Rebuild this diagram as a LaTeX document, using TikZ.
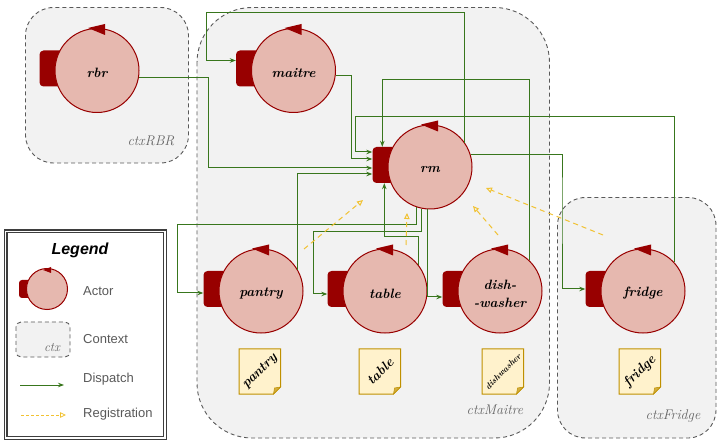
\documentclass[tikz,border=0pt]{standalone}
\usepackage{fontspec}
\usepackage{xcolor}
\usepackage{tikz}
\usetikzlibrary{arrows.meta}
\newfontfamily\legendfont{Liberation Sans}
\definecolor{actorred}{HTML}{980000}
\definecolor{actorfill}{HTML}{E6B8AF}
\definecolor{ctxfill}{HTML}{F2F2F2}
\definecolor{ctxline}{HTML}{595959}
\definecolor{ctxtext}{HTML}{666666}
\definecolor{greenline}{HTML}{38761D}
\definecolor{yellowline}{HTML}{F1C232}
\definecolor{notefill}{HTML}{FFF2CC}
\definecolor{noteline}{HTML}{BF9000}
\tikzset{
  actornode/.style={circle,draw=actorred,fill=actorfill,line width=1pt,minimum size=84pt,inner sep=0pt},
  actortext/.style={align=center,inner sep=0pt,font=\fontsize{13.5}{18}\selectfont\itshape\bfseries},
  portbox/.style={fill=actorred,rounded corners=4pt,minimum width=25pt,minimum height=36pt,inner sep=0pt},
  ctxbox/.style={draw=ctxline,fill=ctxfill,line width=0.9pt,dash pattern=on 4pt off 3pt},
  ctxlabel/.style={text=ctxtext,font=\fontsize{14}{14}\selectfont\itshape},
  dispatch/.style={draw=greenline,line width=1pt,-{Stealth[length=6pt,width=4.5pt]}},
  registration/.style={draw=yellowline,line width=1pt,dash pattern=on 5pt off 4pt,-{Triangle[open,length=6pt,width=5.5pt]}},
  notecard/.style={draw=noteline,fill=notefill,line width=1pt},
  notefold/.style={draw=noteline,fill=noteline!70!notefill,line width=0.5pt},
  notetext/.style={rotate=45,inner sep=0pt,font=\fontsize{13.5}{13.5}\selectfont\itshape\bfseries},
  legendtext/.style={anchor=west,inner sep=0pt,text=ctxline,font=\legendfont\fontsize{13}{13}\selectfont}
}
\newcommand{\actorat}[4]{%
  \node[portbox] (#1port) at (#2-45,#3-2) {};
  \node[actornode] (#1) at (#2,#3) {};
  \fill[actorred] (#2-9,#3-42.5) -- ++(17,-4) -- ++(0,11) -- cycle;
  \node[actortext] (#1text) at (#2,#3+2.5) {#4};
}
\newcommand{\noteat}[4]{%
  \draw[notecard] (#2,#3) -- ++(41.5,0) -- ++(0,38) -- ++(-7,7) -- ++(-34.5,0) -- cycle;
  \draw[notefold] (#2+41.5,#3+38) -- ++(-7,7) -- ++(1,-6) -- cycle;
  \node[notetext] (#1) at (#2+21,#3+22.5) {#4};
}
\begin{document}
\begin{tikzpicture}[x=1pt,y=-1pt]
    \useasboundingbox (0,0) rectangle (723,446);

    \draw[ctxbox,rounded corners=28pt] (25.5,7.5) rectangle (188.5,163);
    \draw[ctxbox,rounded corners=55pt] (197,7.5) rectangle (549.5,438);
    \draw[ctxbox,rounded corners=28pt] (557.5,197.5) rectangle (716,438);
    \node[ctxlabel] (labelrbr) at (151,141) {ctxRBR};
    \node[ctxlabel] (labelmaitre) at (495,410) {ctxMaitre};
    \node[ctxlabel] (labelfridge) at (673,416) {ctxFridge};

    \actorat{rbr}{97}{70.5}{rbr}
    \actorat{maitre}{293.5}{70.5}{maitre}
    \actorat{rm}{430}{167}{rm}
    \actorat{pantry}{261}{291}{pantry}
    \actorat{table}{385}{291}{table}
    \actorat{dish}{500}{291}{dish-\\-washer}
    \actorat{fridge}{643}{291}{fridge}

    \noteat{notepantry}{239}{349}{pantry}
    \noteat{notetable}{359}{349}{table}
    \noteat{notedish}{482}{349}{\fontsize{8.5}{8.5}\selectfont dishwasher}
    \noteat{notefridge}{619}{349}{fridge}

    \coordinate (rmnorth) at ([xshift=10pt]rmport.north west);
    \coordinate (rmsouth) at ([xshift=12pt]rmport.south west);

    \draw[dispatch] (rbr.-10) -| (208.5,120) |- ([yshift=-3pt]rmport.west);
    \draw[dispatch] (maitre.-7) -| (351.5,120) |- ([yshift=6pt]rmport.west);
    \draw[dispatch] (fridge.43) |- (355,117) |- ([yshift=13pt]rmport.west);
    \draw[dispatch] (pantry.30) |- ([yshift=-9pt]rmport.west);
    \draw[dispatch] (table.38) -- (table.38 |- 0,237) -| (rmsouth);
    \draw[dispatch] (dish.46) -- (dish.46 |- 0,80) -| (rmnorth);
    \draw[dispatch] (rm.35) |- (206,12.7) |- ([yshift=8pt]maitreport.west);
    \draw[dispatch] (rm.-109) |- (177,225) |- ([yshift=-4pt]pantryport.west);
    \draw[dispatch] (rm.-101) |- (313,232) |- ([yshift=-5pt]tableport.west);
    \draw[dispatch] (rm.-93) |- ([yshift=-8pt]dishport.west);
    \draw[dispatch] (rm.17) -| (562,200) |- (fridgeport.west);

    \draw[registration] (304,249) -- (363,200);
    \draw[registration] (406,245) -- (407,213);
    \draw[registration] (498,235) -- (473,206);
    \draw[registration] (603,235) -- (486,188);

    % legend
    \draw[draw=ctxline!70!black,line width=1.2pt,double=white,double distance=1.6pt] (5.5,231.5) rectangle (165,438);
    \node[font=\legendfont\bfseries\itshape\fontsize{16}{16}\selectfont] (legendtitle) at (80,250) {Legend};

    \node[portbox,rounded corners=3pt,minimum width=14pt,minimum height=18pt] (legendport) at (26,289) {};
    \node[actornode,minimum size=41pt] (legendactor) at (47,289) {};
    \fill[actorred] (43,270) -- ++(8,-3) -- ++(0,6) -- cycle;
    \node[legendtext] (legendactortext) at (83,291) {Actor};

    \draw[ctxbox,rounded corners=5pt] (16,322) rectangle (70,357);
    \node[ctxlabel,font=\fontsize{13}{13}\selectfont\itshape] (legendctx) at (52,348) {ctx};
    \node[legendtext] (legendctxtext) at (83,339) {Context};

    \coordinate (dispatchfrom) at (20,385);
    \coordinate (dispatchto) at (64,385);
    \draw[dispatch] (dispatchfrom) -- (dispatchto);
    \node[legendtext] (legenddispatch) at (83,379) {Dispatch};

    \coordinate (regfrom) at (21,415);
    \coordinate (regto) at (66,415);
    \draw[registration,line width=0.8pt,dash pattern=on 3pt off 2pt] (regfrom) -- (regto);
    \node[legendtext] (legendreg) at (83,414) {Registration};
\end{tikzpicture}
\end{document}
